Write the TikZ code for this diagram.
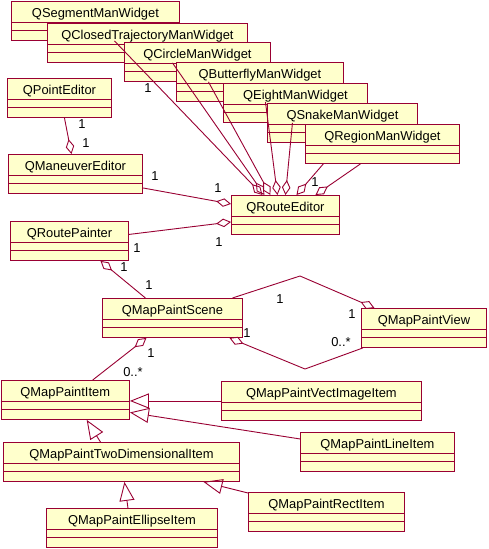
\documentclass[tikz,border=0pt]{standalone}
\usepackage{fontspec}
\setmainfont{Liberation Sans}
\usetikzlibrary{arrows.meta,calc}
\definecolor{ured}{HTML}{990033}
\definecolor{ufill}{HTML}{FFFFCC}
\tikzset{
  cbox/.style={draw=ured, fill=ufill, line width=0.9pt, inner sep=0pt, anchor=north west, minimum height=39pt},
  ctext/.style={inner sep=0pt, anchor=base, font=\fontsize{12.9}{15}\selectfont, text=black},
  clab/.style={inner sep=0pt, font=\fontsize{12.9}{15}\selectfont, text=black},
  conn/.style={draw=ured, line width=0.9pt},
  agg/.style={conn, -{Diamond[open, length=15pt, width=8.5pt, line width=0.9pt]}},
  gen/.style={conn, -{Triangle[open, length=19pt, width=15pt, line width=0.9pt]}},
}
\newcommand\umlclass[5]{%
  \node[cbox, minimum width={(#4-#2)*1pt}] (#1) at (#2,#3) {};
  \node[ctext] (#1t) at ([yshift=-16.5pt]#1.north) {#5};
  \draw[ured, line width=0.9pt] ([yshift=-21pt]#1.north west) -- ([yshift=-21pt]#1.north east)
    ([yshift=-29pt]#1.north west) -- ([yshift=-29pt]#1.north east);
}
\begin{document}
\begin{tikzpicture}[x=1pt,y=-1pt]
\fill[white] (0,0) rectangle (488,549);
\useasboundingbox (0,0) rectangle (488,549);

% widget classes
\umlclass{seg}{11}{1}{179}{QSegmentManWidget}
\umlclass{cl}{47}{23}{247}{QClosedTrajectoryManWidget}
\umlclass{ci}{124}{42}{270}{QCircleManWidget}
\umlclass{bu}{176}{62}{343}{QButterflyManWidget}
\umlclass{ei}{223}{83}{367}{QEightManWidget}
\umlclass{sn}{267}{103}{417}{QSnakeManWidget}

% other classes
\umlclass{pe}{7}{78}{111}{QPointEditor}
\umlclass{me}{8}{154}{142}{QManeuverEditor}
\umlclass{rp}{10}{221}{128}{QRoutePainter}
\umlclass{re}{231}{195}{339}{QRouteEditor}
\umlclass{sc}{102}{298}{242}{QMapPaintScene}
\umlclass{vw}{361}{308}{486}{QMapPaintView}
\umlclass{itm}{0.5}{380}{129}{QMapPaintItem}
\umlclass{vi}{221}{381}{421}{QMapPaintVectImageItem}
\umlclass{li}{300}{432}{454}{QMapPaintLineItem}
\umlclass{td}{3}{442}{239}{QMapPaintTwoDimensionalItem}
\umlclass{rc}{248}{492}{404}{QMapPaintRectItem}
\umlclass{el}{46}{508}{217}{QMapPaintEllipseItem}

% widget aggregations
\draw[agg] ([xshift=19pt]seg.south) -- ([xshift=-23pt]re.north);
\draw[agg] ([xshift=25pt]cl.south) -- ([xshift=-21pt]re.north);
\draw[agg] ([xshift=11pt]ci.south) -- ([xshift=-15pt]re.north);
\draw[agg] ([xshift=5.5pt]bu.south) -- ([xshift=-8pt]re.north);
\draw[agg] ([xshift=-3pt]ei.south) -- ([xshift=0pt]re.north);
\draw[agg] ([xshift=-1pt]sn.south) -- ([xshift=11pt]re.north);
\umlclass{rg}{305}{124}{459}{QRegionManWidget}
\draw[agg] ([xshift=-22pt]rg.south) -- ([xshift=30pt]re.north);

% editor aggregations
\draw[agg] ([xshift=5pt]pe.south) -- ([xshift=-4pt]me.north);
\draw[agg] ([yshift=-14pt]me.east) -- ([yshift=11pt]re.west);
\draw[agg] ([yshift=6.5pt]rp.east) -- ([yshift=-7pt]re.west);
\draw[agg] ([xshift=-27pt]sc.north) -- ([xshift=31pt]rp.south);

% scene / view
\coordinate (b1) at (300,276);
\coordinate (b2) at (305,369);
\draw[agg] ([xshift=60pt]sc.north) -- (b1) -- ([xshift=-49.5pt]vw.north);
\draw[agg] ([xshift=2pt]vw.south west) -- (b2) -- ([xshift=57pt]sc.south);
\draw[agg] ([xshift=27.5pt]itm.north) -- ([xshift=-26pt]sc.south);

% generalizations
\draw[gen] (vi.west) -- (vi.west -| itm.east);
\draw[gen] ([yshift=13pt]li.west) -- ([yshift=-12.5pt]itm.east);
\draw[gen] ([xshift=-21pt]td.north) -- ([xshift=21.5pt]itm.south);
\draw[gen] ([xshift=-4pt]el.north) -- ([xshift=3pt]td.south);
\draw[gen] ([yshift=-1pt]rc.north west) -- ([xshift=82pt]td.south);

% multiplicities
\node[clab] (m1) at (148,88) {1};
\node[clab] (m2) at (315,182) {1};
\node[clab] (m3) at (82,124) {1};
\node[clab] (m4) at (86,143) {1};
\node[clab] (m5) at (155,176) {1};
\node[clab] (m6) at (218,188) {1};
\node[clab] (m7) at (137,248) {1};
\node[clab] (m8) at (219,242) {1};
\node[clab] (m9) at (124,267) {1};
\node[clab] (m10) at (149,285) {1};
\node[clab] (m11) at (280,299) {1};
\node[clab] (m12) at (352,314) {1};
\node[clab] (m13) at (247,333) {1};
\node[clab] (m14) at (341,342) {0..*};
\node[clab] (m15) at (151,353) {1};
\node[clab] (m16) at (133,372) {0..*};
\end{tikzpicture}
\end{document}
